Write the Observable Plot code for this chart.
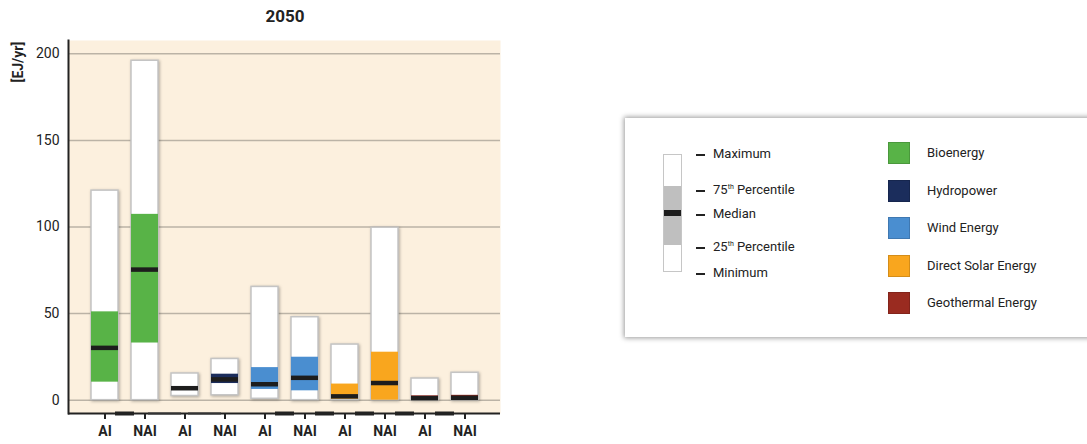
<!DOCTYPE html>
<html>
<head>
<meta charset="utf-8">
<script src="https://cdn.jsdelivr.net/npm/d3@7"></script>
<script src="https://cdn.jsdelivr.net/npm/@observablehq/plot@0.6"></script>
<style>
  html, body { margin: 0; padding: 0; background: #fff; }
  #wrap { position: relative; width: 1087px; height: 444px; font-family: Roboto, "Open Sans", sans-serif; color: #222; overflow: hidden; }
  #chart { position: absolute; left: 0; top: 0; }
  #title { position: absolute; left: 0; width: 570px; top: 6px; text-align: center; font-weight: bold; font-size: 17px; }
  #legend { position: absolute; left: 625px; top: 118px; width: 480px; height: 219px; background: #fff;
            box-shadow: 0 0 5px 1px rgba(0,0,0,0.4); font-size: 13px; }
  .sample { position: absolute; left: 38px; top: 36px; width: 19px; height: 118px; border: 1px solid #c6c6c6; background: #fff; box-sizing: border-box; }
  .sample .iqr { position: absolute; left: 0; right: 0; top: 31px; height: 59px; background: #bfbfbf; }
  .sample .med { position: absolute; left: 0; right: 0; top: 55px; height: 6px; background: #1d1d1d; }
  .krow { position: absolute; left: 71px; height: 16px; line-height: 16px; white-space: nowrap; transform: translateY(-50%); }
  .krow::before { content: ""; display: inline-block; width: 9px; height: 2px; background: #222; vertical-align: middle; margin-right: 8px; }
  .krow sup { font-size: 7px; vertical-align: 5px; }
  .trow { position: absolute; left: 263px; height: 22px; line-height: 22px; white-space: nowrap; }
  .trow span.sw { position: absolute; left: 0; top: 0; width: 22px; height: 22px; box-sizing: border-box; border: 1px solid rgba(0,0,0,0.15); }
  .trow span.lb { position: absolute; left: 39px; top: 0; }
</style>
</head>
<body>
<div id="wrap">
  <div id="chart"></div>
  <div id="title">2050</div>
  <div id="legend"></div>
</div>
<script>
// Renewable energy deployment in 2050 by technology, for Annex I (AI) and non-Annex I (NAI) regions [EJ/yr]
const techs = ["Bioenergy", "Hydropower", "Wind Energy", "Direct Solar Energy", "Geothermal Energy"];
const techColors = ["#58b347", "#1b2d5c", "#4a8ed0", "#f9a61e", "#9a2b20"];
const regions = ["AI", "NAI"];

// One value per bar, in order: Bioenergy AI, Bioenergy NAI, Hydropower AI, ...
const maxVals    = [121, 196, 15.4, 23.8, 65.4, 47.9, 32.1, 99.6, 12.5, 15.8];
const p75Vals    = [51, 107.3, 7.9, 15.0, 18.8, 24.8, 9.3, 27.7, 2.5, 2.8];
const medianVals = [30.2, 75.4, 6.9, 12.0, 9.2, 12.9, 2.2, 9.9, 1.2, 1.4];
const p25Vals    = [10.4, 33.0, 6.0, 9.6, 6.2, 5.4, 0.5, 0, 0, 0];
const minVals    = [0, 0, 2.4, 2.8, 0.8, 0, 0, 0, 0, 0];

const yTicks = [0, 50, 100, 150, 200];
const yDomain = [-7.7, 207.7];

// Legend labels
const keyLabels = ["Maximum", "75<sup>th</sup> Percentile", "Median", "25<sup>th</sup> Percentile", "Minimum"];

const rows = techs.flatMap((t, i) => regions.map((r, j) => {
  const k = i * 2 + j;
  return {key: `${t}|${r}`, tech: t, region: r,
          max: maxVals[k], p75: p75Vals[k], median: medianVals[k], p25: p25Vals[k], min: minVals[k]};
}));

// Baseline stubs sitting in the gaps between bars
const thickStubs = [0, 4, 5, 6, 7, 8].map(i => rows[i].key);
const thinStubs = [1, 2].map(i => rows[i].key);

const plot = Plot.plot({
  width: 1087,
  height: 444,
  marginLeft: 68,
  marginRight: 587,
  marginTop: 40,
  marginBottom: 31,
  style: {fontFamily: "Roboto, 'Open Sans', sans-serif", fontSize: "14px", color: "#222", background: "transparent"},
  x: {domain: rows.map(d => d.key), paddingInner: 0.325, paddingOuter: 0.5625, align: 0.5},
  y: {domain: yDomain},
  color: {domain: techs, range: techColors},
  marks: [
    Plot.frame({fill: "#fcf0de", stroke: null}),
    Plot.ruleY(yTicks, {stroke: "#bbb3a6", strokeWidth: 1.5}),
    Plot.barY(rows, {x: "key", y1: "min", y2: "max", fill: "white", stroke: "#c4c4c4", strokeWidth: 1.5}),
    Plot.barY(rows, {x: "key", y1: "p25", y2: "p75", fill: "tech"}),
    Plot.tickY(rows, {x: "key", y: "median", stroke: "#1d1d1d", strokeWidth: 4.5}),
    Plot.ruleY([yDomain[0]], {stroke: "#222", strokeWidth: 2}),
    Plot.tickY(thickStubs, {x: d => d, y: () => yDomain[0], dx: 20, insetLeft: 4, insetRight: 4, stroke: "#222", strokeWidth: 4}),
    Plot.tickY(thinStubs, {x: d => d, y: () => yDomain[0], dx: 20, insetLeft: -3, insetRight: -3, stroke: "#333", strokeWidth: 2}),
    Plot.frame({anchor: "left", stroke: "#222", strokeWidth: 2}),
    Plot.axisY({ticks: yTicks, tickSize: 0, tickPadding: 9, label: null, fontSize: 14, fill: "#222"}),
    Plot.axisX({tickSize: 6, tickPadding: 7, label: null, stroke: "#222", strokeWidth: 2,
                fontSize: 14, fontWeight: "bold", fill: "#222", tickFormat: k => k.split("|")[1]}),
    Plot.text(["[EJ/yr]"], {frameAnchor: "top-left", dx: -55, dy: 42, rotate: -90, fontWeight: "bold", fontSize: 14, fill: "#222"})
  ]
});
document.getElementById("chart").appendChild(plot);

// soft shadow behind the whisker boxes
const barGroups = plot.querySelectorAll('g[aria-label="bar"]');
if (barGroups.length) barGroups[0].style.filter = "drop-shadow(1px 1px 1.5px rgba(0,0,0,0.3))";

// Legend: box-plot key on the left, technology swatches on the right
const legend = document.getElementById("legend");
const sample = document.createElement("div");
sample.className = "sample";
sample.innerHTML = '<div class="iqr"></div><div class="med"></div>';
legend.appendChild(sample);
const keyY = [36, 69, 96, 126, 155];
keyLabels.forEach((lab, i) => {
  const d = document.createElement("div");
  d.className = "krow";
  d.style.top = keyY[i] + "px";
  d.innerHTML = lab;
  legend.appendChild(d);
});
techs.forEach((t, i) => {
  const d = document.createElement("div");
  d.className = "trow";
  d.style.top = (24 + i * 37.5) + "px";
  d.innerHTML = `<span class="sw" style="background:${techColors[i]}"></span><span class="lb">${t}</span>`;
  legend.appendChild(d);
});
</script>
</body>
</html>
